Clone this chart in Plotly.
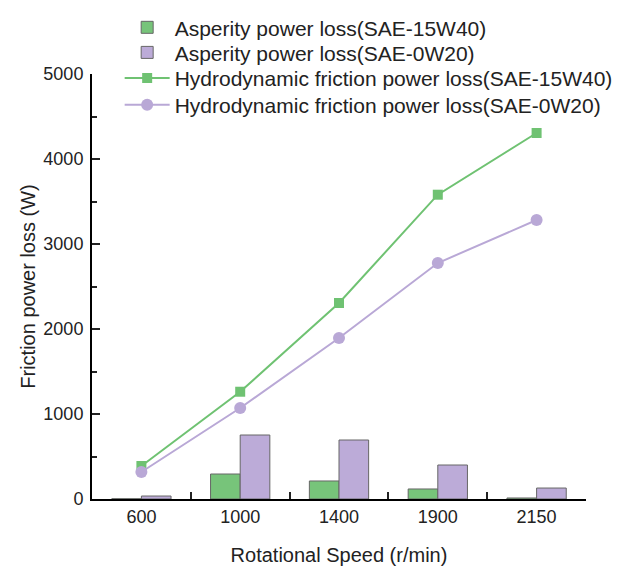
import plotly.graph_objects as go

speeds = ["600", "1000", "1400", "1900", "2150"]
asperity_15w40 = [3, 294, 212, 118, 12]
asperity_0w20 = [35, 753, 694, 400, 129]
hydro_15w40 = [388, 1262, 2306, 3580, 4306]
hydro_0w20 = [318, 1071, 1894, 2776, 3282]

green_fill = "#77c47a"
purple_fill = "#bcabd8"
green_line = "#6fc272"
purple_line = "#b9a8d6"
font_fam = "Liberation Sans, Arial, sans-serif"
axis_col = "#222222"

fig = go.Figure()
fig.add_trace(go.Bar(x=speeds, y=asperity_15w40, name="Asperity power loss(SAE-15W40)",
                     legend="legend",
                     marker=dict(color=green_fill, line=dict(color="#666666", width=1))))
fig.add_trace(go.Bar(x=speeds, y=asperity_0w20, name="Asperity power loss(SAE-0W20)",
                     legend="legend2",
                     marker=dict(color=purple_fill, line=dict(color="#666666", width=1))))
fig.add_trace(go.Scatter(x=speeds, y=hydro_15w40, mode="lines+markers",
                         name="Hydrodynamic friction power loss(SAE-15W40)",
                         legend="legend3",
                         line=dict(color=green_line, width=2),
                         marker=dict(symbol="square", size=10, color=green_line)))
fig.add_trace(go.Scatter(x=speeds, y=hydro_0w20, mode="lines+markers",
                         name="Hydrodynamic friction power loss(SAE-0W20)",
                         legend="legend4",
                         line=dict(color=purple_line, width=2),
                         marker=dict(symbol="circle", size=12, color=purple_line)))


def leg(ypos):
    return dict(x=0.056, y=ypos, xanchor="left", yanchor="middle",
                font=dict(size=21, color=axis_col), itemwidth=45,
                bgcolor="rgba(0,0,0,0)")


# page body adds an 8px offset, so the figure is drawn 8px smaller
fig.update_layout(
    width=629, height=562,
    margin=dict(l=84, r=51, t=66, b=71, autoexpand=False),
    paper_bgcolor="white", plot_bgcolor="white",
    font=dict(family=font_fam, size=18, color=axis_col),
    barmode="group", bargap=0.4, bargroupgap=0,
    showlegend=True,
    legend=leg(1.109), legend2=leg(1.050), legend3=leg(0.990), legend4=leg(0.927),
    xaxis=dict(type="category", range=[-0.5, 4.5], showline=True, linecolor="black",
               linewidth=2, mirror=False, ticks="inside", ticklen=7, tickwidth=1.5,
               tickcolor=axis_col, tickson="boundaries", showgrid=False, zeroline=False,
               ticklabelstandoff=0,
               title=dict(text="Rotational Speed (r/min)", font=dict(size=20), standoff=22)),
    xaxis2=dict(overlaying="x", range=[-0.5, 4.5], showline=False, showgrid=False,
                zeroline=False, tickvals=[0], ticks="inside", ticklen=7, tickwidth=1.5,
                tickcolor=axis_col, showticklabels=False, side="bottom"),
    yaxis=dict(range=[0, 5000], showline=True, linecolor="black", linewidth=2, mirror=False,
               ticks="inside", ticklen=8, tickwidth=1.5, tickcolor=axis_col,
               tickvals=[0, 1000, 2000, 3000, 4000, 5000],
               minor=dict(tickvals=[500, 1500, 2500, 3500, 4500], ticks="inside",
                          ticklen=5, tickwidth=1.5, tickcolor=axis_col, showgrid=False),
               showgrid=False, zeroline=False, ticklabelstandoff=3,
               title=dict(text="Friction power loss (W)", font=dict(size=20), standoff=2)),
)

fig.write_html("out.html")
